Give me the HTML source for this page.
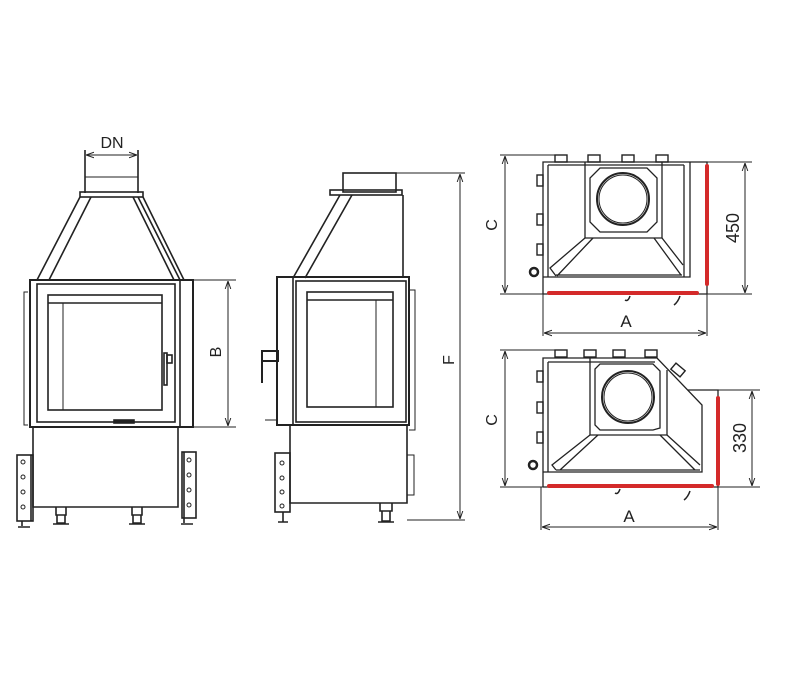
<!DOCTYPE html>
<html><head><meta charset="utf-8"><style>
html,body{margin:0;padding:0;background:#fff;width:800px;height:700px;overflow:hidden}
svg{display:block}
text{font-family:"Liberation Sans",sans-serif;fill:#222}
</style></head><body>
<svg width="800" height="700" viewBox="0 0 800 700" xmlns="http://www.w3.org/2000/svg">
<defs>
<marker id="ar" viewBox="0 0 10 10" refX="10" refY="5" markerWidth="8" markerHeight="8" orient="auto-start-reverse"><path d="M0,1.5 L10,5 L0,8.5" fill="none" stroke="#222" stroke-width="1.2"/></marker>
</defs>
<g fill="none" stroke="#222" stroke-width="1.6">
<!-- FRONT VIEW -->
<line x1="85" y1="150" x2="85" y2="193"/><line x1="138" y1="150" x2="138" y2="193"/>
<line x1="86" y1="155" x2="137" y2="155" marker-start="url(#ar)" marker-end="url(#ar)" stroke-width="1"/>
<line x1="85" y1="177" x2="138" y2="177" stroke-width="1"/>
<rect x="80" y="192" width="63" height="5"/>
<path d="M80,197 L37,280 M91,197 L49,280 M143,197 L184,280 M133,197 L174,280 M138,197 L180,280"/>
<rect x="30" y="280" width="163" height="147" stroke-width="2"/>
<line x1="180" y1="280" x2="180" y2="427"/>
<rect x="37" y="284" width="138" height="138"/>
<rect x="48" y="295" width="114" height="115"/>
<line x1="48" y1="303" x2="162" y2="303"/>
<line x1="63" y1="303" x2="63" y2="410" stroke-width="1"/>
<rect x="164" y="353" width="3" height="32"/><rect x="167" y="355" width="5" height="8"/>
<rect x="114" y="420" width="20" height="3" fill="#222"/>
<path d="M28,292 L24,292 L24,425 L28,425" stroke-width="1"/>
<path d="M33,427 L33,507 L178,507 L178,427"/>
<rect x="17" y="455" width="16" height="66"/><line x1="31" y1="455" x2="31" y2="521"/>
<rect x="182" y="452" width="14" height="66"/><line x1="184" y1="452" x2="184" y2="518"/>
<g stroke-width="1"><circle cx="23" cy="462" r="2"/><circle cx="23" cy="477" r="2"/><circle cx="23" cy="492" r="2"/><circle cx="23" cy="507" r="2"/>
<circle cx="189" cy="460" r="2"/><circle cx="189" cy="475" r="2"/><circle cx="189" cy="490" r="2"/><circle cx="189" cy="505" r="2"/></g>
<path d="M56,507 v8 h10 v-8 M57,515 v8 h8 v-8 M53,524 h16"/>
<path d="M132,507 v8 h10 v-8 M133,515 v8 h8 v-8 M129,524 h16"/>
<path d="M22,521 v5 M18,527 h12 M184,518 v5 M181,524 h12"/>
<!-- B dim -->
<line x1="193" y1="280" x2="236" y2="280" stroke-width="1"/><line x1="193" y1="427" x2="236" y2="427" stroke-width="1"/>
<line x1="228" y1="281" x2="228" y2="426" marker-start="url(#ar)" marker-end="url(#ar)" stroke-width="1"/>

<!-- SIDE VIEW -->
<rect x="343" y="173" width="53" height="19"/>
<rect x="330" y="190" width="72" height="5"/>
<path d="M340,195 L293,278 M352,195 L305,278 M403,195 L403,278"/>
<rect x="277" y="277" width="132" height="148" stroke-width="2"/>
<line x1="293" y1="277" x2="293" y2="425"/>
<rect x="296" y="281" width="110" height="141"/>
<rect x="307" y="292" width="86" height="115"/>
<line x1="307" y1="300" x2="393" y2="300"/>
<line x1="376" y1="300" x2="376" y2="407" stroke-width="1"/>
<path d="M409,290 h6 v140 h-6" stroke-width="1"/>
<path d="M262,351 h16 v10 h-16 M262,350 v33" stroke-width="2"/>
<path d="M265,420 h12" stroke-width="1"/>
<path d="M290,425 L290,503 L407,503 L407,425"/>
<path d="M407,455 h7 v40 h-7" stroke-width="1"/>
<rect x="275" y="453" width="15" height="59"/>
<g stroke-width="1"><circle cx="282" cy="463" r="2"/><circle cx="282" cy="478" r="2"/><circle cx="282" cy="492" r="2"/><circle cx="282" cy="506" r="2"/></g>
<path d="M283,512 v10 M278,522 h10 M380,503 v8 h12 v-8 M382,511 v10 h8 v-10 M378,522 h16"/>
<!-- F dim -->
<line x1="396" y1="173" x2="465" y2="173" stroke-width="1"/><line x1="407" y1="520" x2="465" y2="520" stroke-width="1"/>
<line x1="460" y1="174" x2="460" y2="519" marker-start="url(#ar)" marker-end="url(#ar)" stroke-width="1"/>

<!-- TOP VIEW 1 -->
<line x1="500" y1="155" x2="560" y2="155" stroke-width="1"/><line x1="500" y1="294" x2="545" y2="294" stroke-width="1"/>
<line x1="505" y1="156" x2="505" y2="293" marker-start="url(#ar)" marker-end="url(#ar)" stroke-width="1"/>
<g stroke-width="1.4">
<rect x="555" y="155" width="12" height="7"/><rect x="588" y="155" width="12" height="7"/><rect x="622" y="155" width="12" height="7"/><rect x="656" y="155" width="12" height="7"/>
<rect x="537" y="175" width="6" height="11"/><rect x="537" y="214" width="6" height="11"/><rect x="537" y="244" width="6" height="11"/>
</g>
<path d="M543,162 L690,162 L690,277 L543,277 Z M543,162 L543,294 M548,165 L548,277 M684,165 L684,277 M548,165 L684,165 M690,162 L707,162 L707,294 M543,294 L707,294" stroke-width="1.3"/>
<path d="M585,162 L585,238 L662,238 L662,162" stroke-width="1.3"/>
<path d="M600,168 L647,168 L657,178 L657,222 L647,232 L600,232 L590,222 L590,178 Z" stroke-width="1.3"/>
<circle cx="623" cy="199" r="26" stroke-width="2"/><circle cx="623" cy="199" r="24" stroke-width="1"/>
<path d="M585,238 L550,268 L556,276 M593,238 L557,276 M662,238 L683,265 M654,238 L681,275 M556,275 L682,275" stroke-width="1.3"/>
<circle cx="534" cy="272" r="4" stroke-width="2.5"/>
<path d="M630,296 q-2,6 -5,4 M680,296 q-2,6 -6,9" stroke-width="1.5"/>
<!-- 450 dim -->
<line x1="700" y1="162" x2="752" y2="162" stroke-width="1"/><line x1="707" y1="294" x2="752" y2="294" stroke-width="1"/>
<line x1="745" y1="163" x2="745" y2="293" marker-start="url(#ar)" marker-end="url(#ar)" stroke-width="1"/>
<!-- A dim 1 -->
<line x1="543" y1="294" x2="543" y2="336" stroke-width="1"/><line x1="707" y1="294" x2="707" y2="336" stroke-width="1"/>
<line x1="544" y1="333" x2="706" y2="333" marker-start="url(#ar)" marker-end="url(#ar)" stroke-width="1"/>

<!-- TOP VIEW 2 -->
<line x1="500" y1="350" x2="560" y2="350" stroke-width="1"/><line x1="500" y1="487" x2="545" y2="487" stroke-width="1"/>
<line x1="505" y1="351" x2="505" y2="486" marker-start="url(#ar)" marker-end="url(#ar)" stroke-width="1"/>
<g stroke-width="1.4">
<rect x="555" y="350" width="12" height="7"/><rect x="584" y="350" width="12" height="7"/><rect x="613" y="350" width="12" height="7"/><rect x="645" y="350" width="12" height="7"/>
<rect x="537" y="371" width="6" height="11"/><rect x="537" y="402" width="6" height="11"/><rect x="537" y="432" width="6" height="11"/>
<rect x="672" y="366" width="12" height="8" transform="rotate(40 678 370)"/>
</g>
<path d="M543,358 L657,358 L702,405 L702,472 L543,472 Z M548,362 L655,362 M548,362 L548,472 M543,358 L543,487 M688,390 L718,390 L718,487 M543,487 L718,487" stroke-width="1.3"/>
<path d="M590,358 L590,435 L667,435 L667,370" stroke-width="1.3"/>
<path d="M600,364 L653,364 L660,371 L660,428 L653,430 L600,430 L595,425 L595,369 Z" stroke-width="1.3"/>
<circle cx="628" cy="397" r="26" stroke-width="2"/><circle cx="628" cy="397" r="24" stroke-width="1"/>
<path d="M590,435 L552,465 L556,470 M598,435 L560,470 M667,435 L700,465 M660,435 L695,470 M556,470 L700,470" stroke-width="1.3"/>
<circle cx="533" cy="465" r="4" stroke-width="2.5"/>
<path d="M620,489 q-2,6 -5,4 M690,491 q-2,6 -6,9" stroke-width="1.5"/>
<!-- 330 dim -->
<line x1="718" y1="390" x2="760" y2="390" stroke-width="1"/><line x1="718" y1="487" x2="760" y2="487" stroke-width="1"/>
<line x1="752" y1="391" x2="752" y2="486" marker-start="url(#ar)" marker-end="url(#ar)" stroke-width="1"/>
<!-- A dim 2 -->
<line x1="541" y1="487" x2="541" y2="530" stroke-width="1"/><line x1="718" y1="487" x2="718" y2="530" stroke-width="1"/>
<line x1="542" y1="527" x2="717" y2="527" marker-start="url(#ar)" marker-end="url(#ar)" stroke-width="1"/>
</g>
<!-- red lines -->
<g stroke="#d42a2a" stroke-width="4" stroke-linecap="round">
<line x1="549" y1="293" x2="697" y2="293"/><line x1="707" y1="166" x2="707" y2="284"/>
<line x1="549" y1="486" x2="712" y2="486"/><line x1="718" y1="398" x2="718" y2="484"/>
</g>
<!-- labels -->
<text x="112" y="148" font-size="16" text-anchor="middle">DN</text>
<text transform="translate(221,352) rotate(-90)" font-size="16" text-anchor="middle">B</text>
<text transform="translate(454,360) rotate(-90)" font-size="16" text-anchor="middle">F</text>
<text transform="translate(497,225) rotate(-90)" font-size="16" text-anchor="middle">C</text>
<text transform="translate(497,420) rotate(-90)" font-size="16" text-anchor="middle">C</text>
<text transform="translate(739,228) rotate(-90)" font-size="18" text-anchor="middle">450</text>
<text transform="translate(746,438) rotate(-90)" font-size="18" text-anchor="middle">330</text>
<text x="626" y="327" font-size="17" text-anchor="middle">A</text>
<text x="629" y="522" font-size="17" text-anchor="middle">A</text>
</svg>
</body></html>
